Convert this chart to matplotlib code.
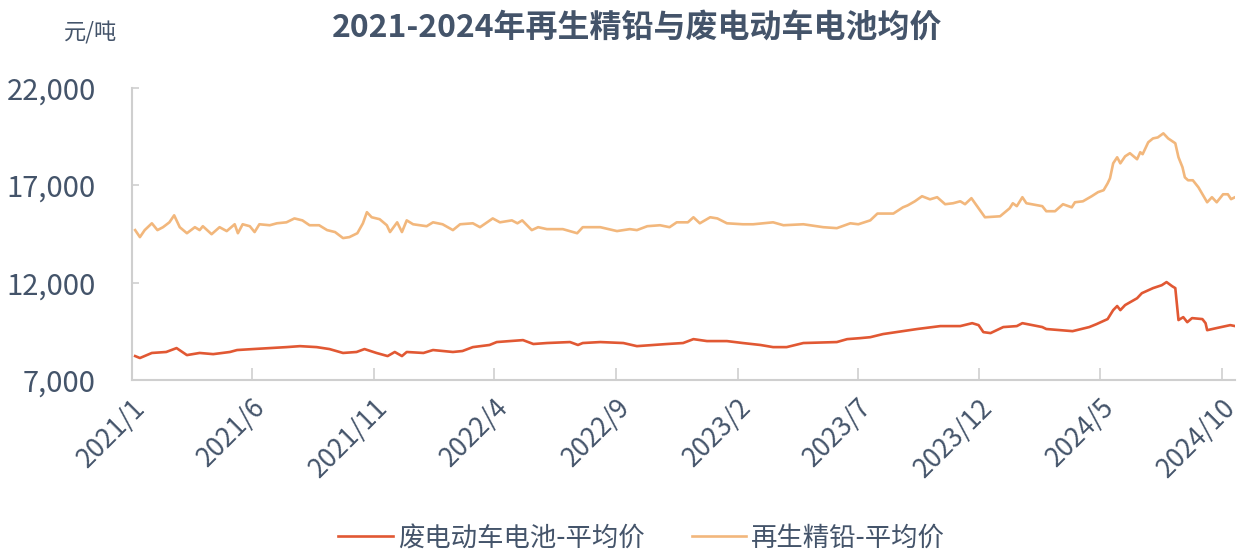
import numpy as np
import pandas as pd
import matplotlib
matplotlib.use("Agg")
import matplotlib.pyplot as plt
from matplotlib.ticker import FuncFormatter

plt.rcParams['font.family'] = ['Noto Sans CJK SC', 'DejaVu Sans']

# 再生精铅-平均价 (元/吨)
lead_dates = [
    "2021-01-05", "2021-01-11", "2021-01-17", "2021-01-26", "2021-02-02", "2021-02-09",
    "2021-02-17", "2021-02-23", "2021-03-02", "2021-03-11", "2021-03-21", "2021-03-27",
    "2021-03-31", "2021-04-11", "2021-04-21", "2021-04-30", "2021-05-10", "2021-05-14",
    "2021-05-20", "2021-05-29", "2021-06-04", "2021-06-10", "2021-06-23", "2021-07-02",
    "2021-07-14", "2021-07-24", "2021-08-03", "2021-08-12", "2021-08-24", "2021-09-03",
    "2021-09-13", "2021-09-23", "2021-10-01", "2021-10-11", "2021-10-18", "2021-10-23",
    "2021-10-29", "2021-11-08", "2021-11-17", "2021-11-21", "2021-11-30", "2021-12-06",
    "2021-12-12", "2021-12-20", "2022-01-06", "2022-01-14", "2022-01-26", "2022-02-08",
    "2022-02-17", "2022-03-05", "2022-03-14", "2022-03-30", "2022-04-08", "2022-04-23",
    "2022-04-30", "2022-05-06", "2022-05-18", "2022-05-26", "2022-06-06", "2022-06-26",
    "2022-07-14", "2022-07-21", "2022-08-12", "2022-09-02", "2022-09-18", "2022-09-27",
    "2022-10-10", "2022-10-26", "2022-11-07", "2022-11-16", "2022-11-30", "2022-12-07",
    "2022-12-15", "2022-12-28", "2023-01-06", "2023-01-18", "2023-02-07", "2023-02-20",
    "2023-03-17", "2023-03-30", "2023-04-24", "2023-05-19", "2023-06-05", "2023-06-22",
    "2023-07-02", "2023-07-17", "2023-07-26", "2023-08-15", "2023-08-27", "2023-09-02",
    "2023-09-11", "2023-09-20", "2023-09-30", "2023-10-09", "2023-10-19", "2023-10-29",
    "2023-11-07", "2023-11-13", "2023-11-21", "2023-11-30", "2023-12-08", "2023-12-27",
    "2024-01-08", "2024-01-12", "2024-01-17", "2024-01-24", "2024-01-29", "2024-02-18",
    "2024-02-23", "2024-03-05", "2024-03-15", "2024-03-26", "2024-03-30", "2024-04-09",
    "2024-04-20", "2024-04-28", "2024-05-05", "2024-05-10", "2024-05-13", "2024-05-17",
    "2024-05-22", "2024-05-26", "2024-06-01", "2024-06-07", "2024-06-16", "2024-06-20",
    "2024-06-23", "2024-06-30", "2024-07-06", "2024-07-12", "2024-07-19", "2024-07-25",
    "2024-08-03", "2024-08-07", "2024-08-12", "2024-08-15", "2024-08-19", "2024-08-25",
    "2024-09-01", "2024-09-12", "2024-09-18", "2024-09-24", "2024-10-02", "2024-10-08",
    "2024-10-12", "2024-10-17",
]
lead_price = [
    14700, 14340, 14700, 15050, 14700, 14850,
    15100, 15460, 14850, 14540, 14850, 14700,
    14900, 14490, 14850, 14650, 15000, 14540,
    15000, 14900, 14600, 15000, 14950, 15050,
    15100, 15300, 15200, 14950, 14950, 14700,
    14600, 14290, 14340, 14540, 15050, 15620,
    15360, 15260, 14950, 14600, 15100, 14600,
    15200, 15000, 14900, 15100, 15000, 14700,
    15000, 15050, 14850, 15300, 15100, 15200,
    15050, 15200, 14700, 14850, 14750, 14750,
    14540, 14850, 14850, 14650, 14750, 14700,
    14900, 14950, 14850, 15100, 15100, 15360,
    15050, 15360, 15300, 15050, 15000, 15000,
    15100, 14950, 15000, 14850, 14800, 15050,
    15000, 15200, 15550, 15550, 15870, 15970,
    16180, 16440, 16280, 16390, 16030, 16080,
    16180, 16030, 16340, 15820, 15360, 15410,
    15820, 16080, 15930, 16390, 16080, 15930,
    15670, 15670, 16030, 15870, 16130, 16180,
    16440, 16650, 16750, 17100, 17360, 18130,
    18440, 18130, 18490, 18650, 18340, 18700,
    18600, 19210, 19410, 19460, 19670, 19410,
    19160, 18440, 17930, 17410, 17260, 17260,
    16900, 16130, 16390, 16130, 16540, 16540,
    16290, 16390,
]

# 废电动车电池-平均价 (元/吨)
battery_dates = [
    "2021-01-05", "2021-01-11", "2021-01-26", "2021-02-13", "2021-02-26", "2021-03-11",
    "2021-03-27", "2021-04-13", "2021-05-04", "2021-05-13", "2021-06-02", "2021-06-23",
    "2021-07-14", "2021-07-31", "2021-08-21", "2021-09-06", "2021-09-23", "2021-10-10",
    "2021-10-20", "2021-11-04", "2021-11-18", "2021-11-27", "2021-12-06", "2021-12-12",
    "2022-01-02", "2022-01-14", "2022-02-08", "2022-02-20", "2022-03-05", "2022-03-26",
    "2022-04-04", "2022-05-07", "2022-05-20", "2022-06-06", "2022-07-05", "2022-07-15",
    "2022-07-21", "2022-08-12", "2022-09-10", "2022-09-27", "2022-11-04", "2022-11-24",
    "2022-12-07", "2022-12-24", "2023-01-18", "2023-02-07", "2023-03-01", "2023-03-17",
    "2023-04-03", "2023-04-24", "2023-06-05", "2023-06-18", "2023-07-04", "2023-07-17",
    "2023-08-02", "2023-09-14", "2023-10-13", "2023-11-07", "2023-11-22", "2023-11-30",
    "2023-12-06", "2023-12-15", "2023-12-31", "2024-01-17", "2024-01-24", "2024-02-18",
    "2024-02-23", "2024-03-27", "2024-04-17", "2024-04-26", "2024-05-10", "2024-05-17",
    "2024-05-22", "2024-05-26", "2024-06-01", "2024-06-16", "2024-06-22", "2024-07-06",
    "2024-07-17", "2024-07-23", "2024-07-30", "2024-08-03", "2024-08-07", "2024-08-13",
    "2024-08-18", "2024-08-24", "2024-09-06", "2024-09-10", "2024-09-12", "2024-09-24",
    "2024-10-11", "2024-10-17",
]
battery_price = [
    8230, 8130, 8390, 8440, 8640, 8280,
    8390, 8330, 8440, 8540, 8590, 8640,
    8690, 8740, 8690, 8590, 8390, 8440,
    8590, 8390, 8230, 8440, 8230, 8440,
    8390, 8540, 8440, 8490, 8690, 8800,
    8950, 9050, 8850, 8900, 8950, 8800,
    8900, 8950, 8900, 8740, 8850, 8900,
    9100, 9000, 9000, 8900, 8800, 8690,
    8690, 8900, 8950, 9100, 9150, 9200,
    9360, 9620, 9770, 9770, 9920, 9820,
    9460, 9410, 9720, 9770, 9920, 9720,
    9620, 9510, 9720, 9870, 10130, 10590,
    10800, 10590, 10850, 11200, 11460, 11720,
    11870, 12030, 11820, 11720, 10080, 10230,
    9970, 10180, 10130, 9920, 9560, 9670,
    9820, 9770,
]

tick_months = ["2021-01-01", "2021-06-01", "2021-11-01", "2022-04-01", "2022-09-01",
               "2023-02-01", "2023-07-01", "2023-12-01", "2024-05-01", "2024-10-01"]
tick_labels = ["2021/1", "2021/6", "2021/11", "2022/4", "2022/9",
               "2023/2", "2023/7", "2023/12", "2024/5", "2024/10"]

text_color = '#44546A'
spine_color = '#CFCFCF'

fig = plt.figure(figsize=(12.39, 5.53), dpi=100)
ax = fig.add_axes([0.1065, 0.3128, 0.8903, 0.5281])

ax.plot(pd.to_datetime(battery_dates), battery_price, color='#E15833', lw=1.9,
        label='废电动车电池-平均价')
ax.plot(pd.to_datetime(lead_dates), lead_price, color='#F2B77C', lw=1.9,
        label='再生精铅-平均价')

ax.set_xlim(pd.Timestamp("2021-01-01"), pd.Timestamp("2024-10-17"))
ax.set_ylim(7000, 22000)
ax.set_yticks([7000, 12000, 17000, 22000])
ax.yaxis.set_major_formatter(FuncFormatter(lambda v, p: f"{int(v):,}"))
ax.set_xticks(pd.to_datetime(tick_months))
ax.set_xticklabels(tick_labels, rotation=45, ha='right', rotation_mode='anchor')

for s in ['top', 'right']:
    ax.spines[s].set_visible(False)
for s in ['left', 'bottom']:
    ax.spines[s].set_color(spine_color)
    ax.spines[s].set_linewidth(1.5)

ax.tick_params(axis='x', direction='in', length=9, width=1.2, color=spine_color,
               labelsize=19, labelcolor=text_color, pad=10)
ax.tick_params(axis='y', direction='in', length=5, width=1.2, color=spine_color,
               labelsize=21, labelcolor=text_color, pad=26)

fig.text(0.514, 0.95, '2021-2024年再生精铅与废电动车电池均价', ha='center', va='center',
         fontsize=23, fontweight='heavy', color=text_color)
fig.text(0.073, 0.94, '元/吨', ha='center', va='center', fontsize=16, color=text_color)

leg = fig.legend(loc='center', bbox_to_anchor=(0.518, 0.027), ncol=2, frameon=False,
                 fontsize=19, handlelength=2.05, columnspacing=1.8, handletextpad=0.2)
for t in leg.get_texts():
    t.set_color(text_color)

fig.savefig('out.png', dpi=100)
